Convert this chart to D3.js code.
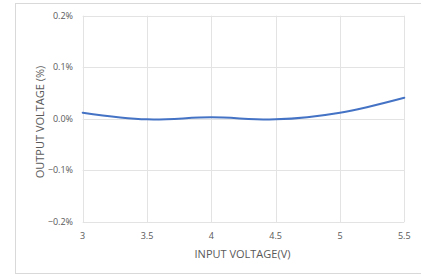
<!DOCTYPE html>
<html><head><meta charset="utf-8">
<script src="https://cdn.jsdelivr.net/npm/d3@7"></script>
<style>body{margin:0;background:#fff}svg{display:block}text{font-family:"Open Sans","Liberation Sans",sans-serif;fill:#595959}</style>
</head><body>
<svg id="c" width="421" height="275"></svg>
<script>
const xValues = [3, 3.5, 4, 4.5, 5, 5.5];
const yValues = [0.012, -0.001, 0.003, -0.001, 0.012, 0.041];
const xTicks = [3, 3.5, 4, 4.5, 5, 5.5];
const yTicks = [-0.2, -0.1, 0, 0.1, 0.2];
const xTitle = "INPUT VOLTAGE(V)";
const yTitle = "OUTPUT VOLTAGE (%)";

const svg = d3.select("#c");
svg.append("rect").attr("x",15.5).attr("y",3.5).attr("width",420).attr("height",270)
  .attr("fill","#fff").attr("stroke","#d9d9d9");

const x = d3.scaleLinear().domain([3,5.5]).range([82.7,404.3]);
const y = d3.scaleLinear().domain([-0.2,0.2]).range([222,15.7]);

const g = svg.append("g");
g.selectAll(".vg").data(xTicks).join("line")
  .attr("x1",d=>Math.round(x(d))+0.5).attr("x2",d=>Math.round(x(d))+0.5)
  .attr("y1",y(0.2)).attr("y2",y(-0.2)).attr("stroke","#e3e3e3").attr("stroke-width",1);
g.selectAll(".hg").data(yTicks).join("line")
  .attr("y1",d=>Math.round(y(d))+0.5).attr("y2",d=>Math.round(y(d))+0.5)
  .attr("x1",x(3)).attr("x2",x(5.5)).attr("stroke","#e3e3e3").attr("stroke-width",1);

g.selectAll(".xt").data(xTicks).join("text")
  .attr("x",d=>x(d)).attr("y",239).attr("text-anchor","middle")
  .attr("font-size","9px").text(d=>d3.format("")(d));
g.selectAll(".yt").data(yTicks).join("text")
  .attr("x",73).attr("y",d=>y(d)+3).attr("text-anchor","end")
  .attr("font-size","9px").text(d=>d3.format(".1f")(d)+"%");

svg.append("text").attr("x",242.5).attr("y",258).attr("text-anchor","middle")
  .attr("font-size","11px").text(xTitle);
svg.append("text").attr("transform","translate(44,122) rotate(-90)").attr("text-anchor","middle")
  .attr("font-size","11px").text(yTitle);

const line = d3.line().x((d,i)=>x(xValues[i])).y(d=>y(d)).curve(d3.curveCatmullRom.alpha(0.5));
svg.append("path").datum(yValues).attr("d",line).attr("fill","none")
  .attr("stroke","#4472C4").attr("stroke-width",2).attr("stroke-linecap","round");
</script>
</body></html>
